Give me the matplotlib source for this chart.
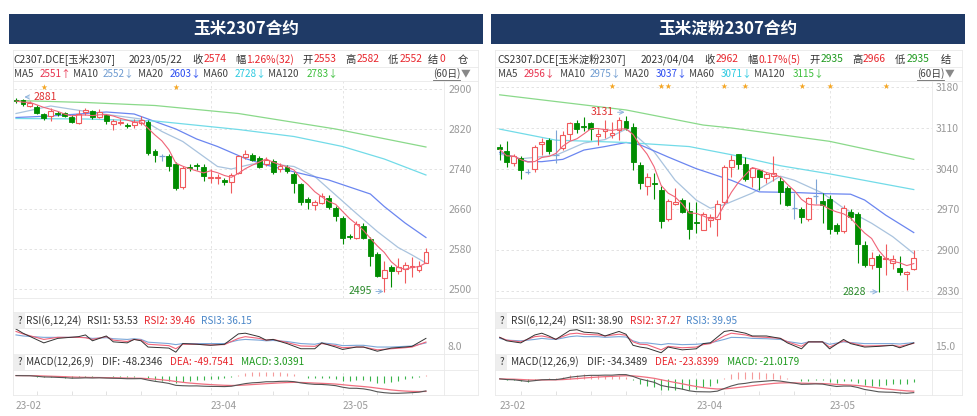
import numpy as np
import pandas as pd
import matplotlib
matplotlib.use('Agg')
import matplotlib.pyplot as plt
from matplotlib.lines import Line2D
from matplotlib.patches import Rectangle

plt.rcParams['font.family'] = ['Noto Sans CJK SC', 'DejaVu Sans']

# ---------------- 玉米2307 (C2307.DCE), 60 trading days ----------------
c_open = [2878, 2878, 2867, 2865, 2851, 2846, 2852, 2853, 2844, 2833,
          2854, 2856, 2845, 2848, 2830, 2833, 2828, 2829, 2833, 2835,
          2777, 2767, 2766, 2751, 2705, 2744, 2748, 2745, 2722, 2722,
          2719, 2714, 2733, 2765, 2768, 2763, 2750, 2757, 2740, 2745,
          2731, 2710, 2681, 2669, 2673, 2682, 2662, 2643, 2606, 2602,
          2626, 2601, 2570, 2523, 2545, 2536, 2541, 2545, 2538, 2553]
c_high = [2882, 2881, 2876, 2868, 2853, 2862, 2856, 2855, 2848, 2858,
          2862, 2858, 2860, 2850, 2840, 2840, 2832, 2840, 2846, 2838,
          2780, 2770, 2770, 2755, 2746, 2750, 2752, 2750, 2740, 2730,
          2722, 2732, 2768, 2778, 2772, 2766, 2764, 2760, 2752, 2748,
          2734, 2713, 2684, 2678, 2692, 2688, 2666, 2646, 2610, 2637,
          2632, 2604, 2575, 2556, 2548, 2563, 2555, 2565, 2556, 2582]
c_low = [2872, 2866, 2864, 2850, 2838, 2836, 2846, 2844, 2832, 2831,
         2848, 2840, 2842, 2830, 2818, 2828, 2822, 2822, 2828, 2768,
         2755, 2756, 2737, 2698, 2700, 2736, 2738, 2717, 2712, 2710,
         2708, 2693, 2730, 2760, 2756, 2742, 2746, 2730, 2735, 2733,
         2693, 2669, 2661, 2659, 2670, 2660, 2636, 2590, 2600, 2600,
         2600, 2547, 2524, 2495, 2505, 2530, 2513, 2525, 2534, 2552]
c_close = [2876, 2871, 2873, 2853, 2843, 2857, 2850, 2846, 2835, 2851,
           2858, 2844, 2854, 2837, 2837, 2835, 2826, 2835, 2838, 2773,
           2768, 2767, 2747, 2703, 2743, 2742, 2746, 2727, 2724, 2724,
           2714, 2728, 2766, 2771, 2759, 2745, 2759, 2734, 2747, 2737,
           2713, 2674, 2674, 2675, 2686, 2665, 2647, 2603, 2604, 2630,
           2603, 2567, 2527, 2539, 2537, 2545, 2549, 2546, 2547, 2574]

# moving averages (candle index, price)
c_ma10_idx = [0, 5, 12, 18, 21, 24, 27, 29, 31, 34, 38, 40, 43, 46, 49, 52, 55, 57, 59]
c_ma10 = [2851, 2866, 2851, 2840, 2815, 2795, 2765, 2745, 2740, 2750, 2748, 2745, 2725, 2688,
          2651, 2615, 2583, 2568, 2552]
c_ma20_idx = [0, 5, 13, 17, 20, 23, 26, 29, 33, 36, 41, 45, 48, 51, 53, 56, 59]
c_ma20 = [2843, 2846, 2854, 2850, 2835, 2820, 2800, 2785, 2761, 2748, 2731, 2718, 2704, 2690,
          2665, 2632, 2603]
c_ma60_idx = [0, 10, 20, 32, 40, 47, 53, 59]
c_ma60 = [2841, 2840, 2836, 2819, 2805, 2785, 2760, 2728]
c_ma120_idx = [0, 10, 20, 32, 46, 59]
c_ma120 = [2877, 2873, 2867, 2851, 2820, 2784]

c_rsi_idx = [0, 1, 4, 6, 9, 10, 11, 13, 14, 16, 17, 18, 19, 22, 23, 24, 26, 28, 30, 32, 33, 35,
             36, 37, 39, 41, 43, 44, 46, 47, 49, 50, 52, 54, 56, 57, 59]
c_rsi1 = [89.5, 73.5, 36.2, 53.5, 60.2, 66.8, 44.2, 62.8, 40.2, 36.2, 49.5, 44.2, 20.2, 16.2,
          0.5, 33.6, 30.9, 26.9, 30.9, 70.8, 73.5, 60.2, 46.8, 49.5, 33.6, 13.6, 13.6, 36.2,
          20.2, 10.9, 20.2, 20.2, 4.1, 16.2, 20.2, 22.9, 53.53]
c_rsi2 = [80.2, 70.8, 49.5, 57.5, 57.5, 56.0, 49.5, 60.2, 46.8, 41.5, 49.5, 46.8, 30.9, 25.6,
          13.6, 30.9, 30.9, 28.2, 29.6, 53.5, 60.2, 53.5, 46.8, 49.5, 37.6, 24.2, 22.9, 33.6,
          25.6, 17.6, 20.2, 20.2, 9.5, 13.6, 17.6, 20.2, 39.46]
c_rsi3 = [66.9, 62.9, 57.5, 57.5, 57.5, 56.9, 53.5, 56.2, 52.2, 49.5, 52.2, 49.5, 38.9, 33.6,
          29.5, 33.6, 33.6, 33.6, 33.6, 46.8, 49.5, 46.8, 44.2, 45.5, 41.5, 33.6, 30.9, 36.2,
          30.9, 25.6, 26.9, 26.9, 20.2, 20.2, 22.9, 24.2, 36.15]

# ---------------- 玉米淀粉2307 (CS2307.DCE) ----------------
cs_open = [3077, 3070, 3049, 3058, 3035, 3040, 3082, 3089, 3063, 3075,
           3099, 3118, 3114, 3118, 3097, 3105, 3098, 3106, 3122, 3112,
           3046, 3010, 3016, 3003, 2953, 2979, 2986, 2967, 2949, 2935,
           2952, 2953, 2983, 3043, 3065, 3048, 3026, 3037, 3024, 3028,
           3018, 3006, 2972, 2970, 2953, 2993, 2985, 2988, 2943, 2933,
           2966, 2962, 2908, 2874, 2890, 2884, 2877, 2869, 2859, 2868]
cs_high = [3082, 3088, 3066, 3062, 3040, 3081, 3092, 3092, 3106, 3104,
           3120, 3124, 3128, 3121, 3108, 3124, 3121, 3128, 3131, 3118,
           3052, 3032, 3032, 3010, 2988, 3007, 2990, 2982, 2982, 2966,
           2962, 2986, 3046, 3064, 3066, 3060, 3043, 3039, 3035, 3061,
           3026, 3010, 2998, 2974, 2992, 3022, 2998, 2994, 2946, 2978,
           2970, 2966, 2915, 2897, 2893, 2911, 2891, 2889, 2863, 2900]
cs_low = [3055, 3043, 3045, 3023, 3031, 3035, 3063, 3066, 3049, 3072,
          3089, 3101, 3105, 3089, 3081, 3092, 3092, 3090, 3106, 3038,
          3005, 2995, 2988, 2937, 2950, 2977, 2963, 2919, 2930, 2935,
          2940, 2924, 2978, 3026, 3040, 3018, 3009, 3004, 3015, 3018,
          2980, 2975, 2954, 2946, 2950, 2980, 2946, 2928, 2928, 2930,
          2951, 2877, 2870, 2867, 2828, 2857, 2868, 2857, 2831, 2866]
cs_close = [3073, 3051, 3061, 3037, 3035, 3077, 3086, 3070, 3063, 3098,
            3118, 3108, 3112, 3108, 3099, 3108, 3102, 3123, 3110, 3051,
            3015, 3026, 3014, 2950, 2984, 2982, 2966, 2936, 2947, 2962,
            2956, 2979, 3043, 3055, 3048, 3022, 3041, 3026, 3030, 3032,
            2999, 2977, 2972, 2956, 2989, 2993, 2977, 2936, 2933, 2972,
            2957, 2910, 2874, 2886, 2870, 2887, 2885, 2862, 2862, 2887]

cs_ma10_idx = [0, 3, 8, 12, 15, 18, 19, 22, 25, 28, 30, 32, 36, 40, 42, 46, 49, 53, 56, 59]
cs_ma10 = [3065, 3057, 3063, 3084, 3090, 3108, 3101, 3069, 3020, 2986, 2972, 2978, 2998, 3027,
           3020, 2998, 2972, 2946, 2923, 2894]
cs_ma20_idx = [0, 4, 6, 9, 12, 15, 18, 20, 24, 28, 33, 37, 42, 46, 50, 52, 55, 59]
cs_ma20 = [3068, 3052, 3052, 3056, 3072, 3078, 3085, 3081, 3060, 3040, 3020, 3000, 2999, 2997,
           2996, 2986, 2960, 2930]
cs_ma60_idx = [0, 8, 18, 27, 33, 40, 47, 59]
cs_ma60 = [3108, 3089, 3085, 3078, 3064, 3045, 3031, 3004]
cs_ma120_idx = [0, 18, 29, 33, 47, 59]
cs_ma120 = [3167, 3141, 3115, 3110, 3087, 3056]

cs_rsi_idx = [0, 1, 3, 5, 6, 7, 8, 10, 11, 12, 14, 15, 17, 18, 19, 20, 21, 23, 24, 26, 28, 29,
              30, 32, 33, 35, 36, 38, 40, 41, 43, 44, 46, 47, 49, 50, 52, 54, 56, 57, 59]
cs_rsi1 = [60.3, 46.9, 38.9, 69.6, 76.3, 65.6, 52.3, 87.0, 89.7, 80.3, 76.3, 65.6, 83.0, 72.3,
           29.6, 22.9, 18.9, 1.0, 22.9, 12.2, 16.2, 36.2, 38.9, 83.0, 87.0, 76.3, 65.6, 65.6,
           56.3, 38.9, 16.2, 42.9, 42.9, 16.2, 52.3, 36.2, 22.9, 25.6, 29.6, 20.2, 38.90]
cs_rsi2 = [60.3, 49.6, 42.9, 63.0, 65.6, 60.3, 53.6, 73.6, 76.3, 72.3, 69.6, 65.6, 72.3, 68.3,
           42.9, 33.6, 32.2, 12.2, 25.6, 20.2, 22.9, 32.2, 36.2, 65.6, 76.3, 69.6, 63.0, 60.3,
           56.3, 42.9, 25.6, 42.9, 42.9, 22.9, 46.9, 38.9, 26.9, 28.2, 29.6, 25.6, 37.27]
cs_rsi3 = [56.3, 49.6, 46.9, 52.3, 56.3, 53.6, 52.3, 63.0, 65.6, 63.0, 63.0, 60.3, 63.0, 61.6,
           46.9, 38.9, 38.9, 32.2, 36.2, 32.2, 33.6, 36.2, 38.9, 52.3, 60.3, 59.0, 56.3, 55.0,
           52.3, 44.3, 36.2, 42.9, 42.9, 33.6, 42.9, 40.3, 36.2, 36.2, 36.2, 34.8, 39.95]

month_idx = [0, 28, 47]
month_labels = ['23-02', '23-04', '23-05']
minor_idx = [3, 8, 13, 18, 23, 32, 37, 42, 52, 57]

W, H = 977, 416
NAVY = '#1f3a66'
RED = '#f05a5c'
GREEN = '#008c00'
FLAT = '#7ea4d6'
DARK = '#333333'
VR = '#e8262d'
VG = '#1e9a1e'
VB = '#4a86c8'
LINE = '#e9e9e9'

fig = plt.figure(figsize=(W / 100, H / 100), dpi=100)
fig.patch.set_facecolor('white')


def px_ax(x0, y0, x1, y1):
    return fig.add_axes([x0 / W, 1 - y1 / H, (x1 - x0) / W, (y1 - y0) / H])


def ftext(x, y, s, **kw):
    kw.setdefault('va', 'center')
    return fig.text(x / W, 1 - y / H, s, **kw)


def hline(x0, x1, y, color=LINE):
    fig.add_artist(Line2D([x0 / W, x1 / W], [1 - y / H, 1 - y / H], color=color, lw=0.6))


def vline(x, y0, y1, color=LINE):
    fig.add_artist(Line2D([x / W, x / W], [1 - y0 / H, 1 - y1 / H], color=color, lw=0.6))


def clean(ax, xlim):
    ax.set_xlim(xlim)
    for s in ax.spines.values():
        s.set_visible(False)
    ax.set_xticks([])
    ax.set_yticks([])
    for v in month_idx[1:]:
        ax.axvline(v, color='#e0e0e0', ls=(0, (3, 3)), lw=0.6, zorder=0)


def panel(title, gx, o, h, l, c, ma, rsi, xlim, ylim, yticks, stars, star_y, marks,
          info, maline, rsi_head, macd_head, rsi_lim, rsi_lab):
    bx0, bx1, px0, px1, cx = gx
    fig.patches.append(Rectangle((bx0 / W, 1 - 44 / H), (bx1 - bx0) / W, 30 / H,
                                 transform=fig.transFigure, fc=NAVY, ec='none'))
    ftext((bx0 + bx1) / 2, 29, title, color='white', fontsize=12, fontweight='bold', ha='center')

    for y in (50, 67, 81, 298, 312, 328, 354, 370, 395):
        hline(px0 - 1, cx, y)
    vline(px0 - 1, 50, 395)
    vline(px1, 81, 395)
    vline(cx, 50, 395)

    for x, s, col in info:
        ftext(x, 59.5, s, color=col, fontsize=7.4)
    for x, s, col in maline:
        ftext(x, 74, s, color=col, fontsize=7.1)
    ftext(cx - 45, 74, '(60日)', color='#444444', fontsize=7.1)
    hline(cx - 45, cx - 18, 79.5, color='#666666')
    ftext(cx - 17, 73.5, '▼', color='#888888', fontsize=7)

    o, h, l, c = map(np.asarray, (o, h, l, c))
    x = np.arange(len(c))

    ax = px_ax(px0, 81, px1, 298)
    clean(ax, xlim)
    ax.set_ylim(ylim)
    ax.yaxis.tick_right()
    ax.set_yticks(yticks)
    ax.tick_params(axis='y', length=0, pad=3, labelsize=7.5, labelcolor='#999999')
    ax.grid(axis='y', color='#dedede', ls=(0, (3, 3)), lw=0.6)
    ax.set_axisbelow(True)

    up, dn, fl = c > o, c < o, c == o
    cols = np.where(up, RED, np.where(dn, GREEN, FLAT))
    ax.vlines(x, l, h, colors=cols, lw=0.8, zorder=2)
    ax.bar(x[up], (c - o)[up], bottom=o[up], width=0.7, fc='white', ec=RED, lw=0.8, zorder=3)
    ax.bar(x[dn], (o - c)[dn], bottom=c[dn], width=0.7, fc=GREEN, ec=GREEN, lw=0.6, zorder=3)
    ax.hlines(o[fl], x[fl] - 0.38, x[fl] + 0.38, colors=FLAT, lw=0.9, zorder=3)

    ma5 = pd.Series(c).rolling(5, min_periods=1).mean()
    ax.plot(x, ma5, color='#f06478', lw=0.8, zorder=4)
    for (idx, vals), col in zip(ma, ['#a9c3de', '#6b86f0', '#72dbe8', '#8ad98a']):
        ax.plot(idx, vals, color=col, lw=0.9, zorder=1.5)

    for s in stars:
        ax.text(s, star_y, '★', color='#f5a623', fontsize=5.5, ha='center', va='center',
                clip_on=False, family='DejaVu Sans')

    # highest / lowest price markers
    for (txt, ti, ty, xi, ha, col) in marks:
        ax.annotate(txt, xy=(xi, ty), xytext=(ti, ty), color=col, fontsize=7.5, ha=ha,
                    va='center', zorder=5,
                    arrowprops=dict(arrowstyle='->', color='#8fb4dd', lw=0.7,
                                    shrinkA=1, shrinkB=0))

    # RSI
    for xx, s, col in rsi_head:
        ftext(xx, 320.5, s, color=col, fontsize=7.2)
    ftext(px0 + 5.5, 320.5, '?', color='#333333', fontsize=7, ha='center',
          bbox=dict(boxstyle='square,pad=0.3', fc='#eeeeee', ec='none'))
    ax2 = px_ax(px0, 328, px1, 354)
    clean(ax2, xlim)
    ax2.set_ylim(rsi_lim)
    ridx, r1, r2, r3 = rsi
    ax2.plot(ridx, r3, color='#7aa6d8', lw=0.8)
    ax2.plot(ridx, r2, color='#f0647a', lw=0.8)
    ax2.plot(ridx, r1, color='#333333', lw=0.7)
    ftext(px1 + 3, 347.5, rsi_lab, color='#999999', fontsize=7.5)

    # MACD
    for xx, s, col in macd_head:
        ftext(xx, 362, s, color=col, fontsize=7.2)
    ftext(px0 + 5.5, 362, '?', color='#333333', fontsize=7, ha='center',
          bbox=dict(boxstyle='square,pad=0.3', fc='#eeeeee', ec='none'))
    cs = pd.Series(c, dtype=float)
    dif = cs.ewm(span=12, adjust=False).mean() - cs.ewm(span=26, adjust=False).mean()
    dea = dif.ewm(span=9, adjust=False).mean()
    hist = 2 * (dif - dea)
    ax3 = px_ax(px0, 370, px1, 395)
    clean(ax3, xlim)
    lo_v = min(dif.min(), dea.min(), hist.min())
    hi_v = max(dif.max(), dea.max(), hist.max())
    pad = (hi_v - lo_v) * 0.08
    ax3.set_ylim(lo_v - pad, hi_v + pad)
    ax3.vlines(x, 0, hist, colors=np.where(hist >= 0, '#f59a9a', '#39b54a'), lw=0.8)
    ax3.plot(x, dea, color='#f07080', lw=0.9)
    ax3.plot(x, dif, color='#555555', lw=0.8)
    ax3.set_xticks(month_idx)
    ax3.set_xticklabels(month_labels)
    ax3.set_xticks(minor_idx, minor=True)
    ax3.tick_params(axis='x', which='major', length=0, pad=4, labelsize=7.3, labelcolor='#999999')
    ax3.tick_params(axis='x', which='minor', length=3, direction='in', color='#dddddd', width=0.6)
    for lab in ax3.get_xticklabels():
        lab.set_ha('left')


panel('玉米2307合约', (9, 483, 14, 444, 478),
      c_open, c_high, c_low, c_close,
      [(c_ma10_idx, c_ma10), (c_ma20_idx, c_ma20), (c_ma60_idx, c_ma60), (c_ma120_idx, c_ma120)],
      (c_rsi_idx, c_rsi1, c_rsi2, c_rsi3),
      (-0.29, 61.6), (2482, 2916), [2500, 2580, 2660, 2740, 2820, 2900],
      [4, 23], 2904,
      [('2881', 2.5, 2884, 1.2, 'left', '#e03131'), ('2495', 51.2, 2495, 52.9, 'right', '#2a8a2a')],
      [(13.7, 'C2307.DCE[玉米2307]', DARK), (128.7, '2023/05/22', DARK), (192.7, '收', DARK),
       (203.7, '2574', VR), (235.7, '幅', DARK), (246, '1.26%(32)', VR), (302, '开', DARK),
       (313.3, '2553', VR), (345, '高', DARK), (356.7, '2582', VR), (388, '低', DARK),
       (399.7, '2552', VR), (428, '结', DARK), (439, '0', VR), (458, '仓', DARK)],
      [(13.7, 'MA5', '#444444'), (39.7, '2551↑', '#e8334f'), (73, 'MA10', '#444444'),
       (102.3, '2552↓', '#6e9bd0'), (138, 'MA20', '#444444'), (169.7, '2603↓', '#2b4cf0'),
       (203, 'MA60', '#444444'), (234.7, '2728↓', '#2cc9e0'), (268, 'MA120', '#444444'),
       (307, '2783↓', '#3cbf3c')],
      [(26, 'RSI(6,12,24)', DARK), (87.3, 'RSI1: 53.53', DARK), (143.7, 'RSI2: 39.46', VR),
       (200.7, 'RSI3: 36.15', VB)],
      [(26, 'MACD(12,26,9)', DARK), (102, 'DIF: -48.2346', DARK), (170, 'DEA: -49.7541', VR),
       (241, 'MACD: 3.0391', VG)],
      (-6.6, 93.5), '8.0')

panel('玉米淀粉2307合约', (491, 965, 496, 932, 962),
      cs_open, cs_high, cs_low, cs_close,
      [(cs_ma10_idx, cs_ma10), (cs_ma20_idx, cs_ma20), (cs_ma60_idx, cs_ma60),
       (cs_ma120_idx, cs_ma120)],
      (cs_rsi_idx, cs_rsi1, cs_rsi2, cs_rsi3),
      (-0.53, 61.6), (2817.4, 3190.8), [2830, 2900, 2970, 3040, 3110, 3180],
      [16, 23, 24, 32, 35, 43, 47, 55], 3182,
      [('3131', 16.2, 3137, 17.8, 'right', '#e03131'), ('2828', 52.2, 2828, 53.9, 'right', '#2a8a2a')],
      [(497.7, 'CS2307.DCE[玉米淀粉2307]', DARK), (640.3, '2023/04/04', DARK), (704.3, '收', DARK),
       (716, '2962', VR), (747.3, '幅', DARK), (758.7, '0.17%(5)', VR), (809, '开', DARK),
       (820.3, '2935', VG), (852.3, '高', DARK), (863, '2966', VR), (894.7, '低', DARK),
       (906.3, '2935', VG), (940.3, '结', DARK)],
      [(497.7, 'MA5', '#444444'), (523.7, '2956↓', '#e8334f'), (559.7, 'MA10', '#444444'),
       (589.3, '2975↓', '#6e9bd0'), (624.3, 'MA20', '#444444'), (655.7, '3037↓', '#2b4cf0'),
       (689.3, 'MA60', '#444444'), (720.3, '3071↓', '#2cc9e0'), (754.3, 'MA120', '#444444'),
       (792.7, '3115↓', '#3cbf3c')],
      [(511, 'RSI(6,12,24)', DARK), (572, 'RSI1: 38.90', DARK), (629.7, 'RSI2: 37.27', VR),
       (686.3, 'RSI3: 39.95', VB)],
      [(511, 'MACD(12,26,9)', DARK), (587, 'DIF: -34.3489', DARK), (655.3, 'DEA: -23.8399', VR),
       (727, 'MACD: -21.0179', VG)],
      (-3.8, 96.3), '15.0')

fig.savefig('out.png', dpi=100, facecolor='white')
